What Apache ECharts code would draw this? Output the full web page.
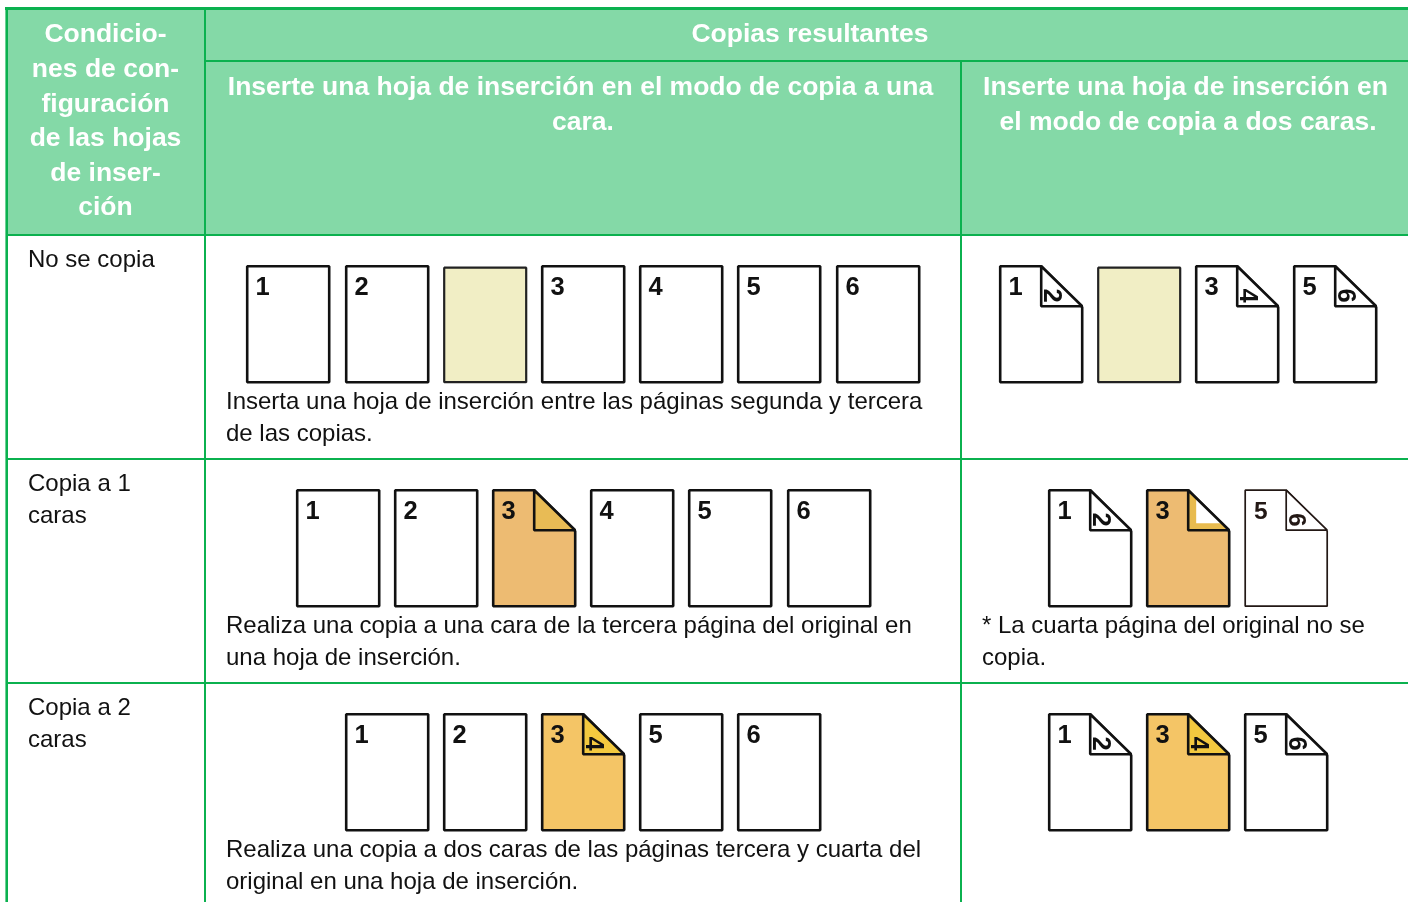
<!DOCTYPE html>
<html>
<head>
<meta charset="utf-8">
<style>
html,body{margin:0;padding:0;background:#fff;}
#main{width:1408px;height:902px;}
</style>
<script src="https://cdn.jsdelivr.net/npm/echarts@6/dist/echarts.min.js"></script>
</head>
<body>
<div id="main"></div>
<script>
/* textos de la tabla */
var headCondition = ['Condicio-','nes de con-','figuración','de las hojas','de inser-','ción'];
var headResult = 'Copias resultantes';
var headOneSide = ['Inserte una hoja de inserción en el modo de copia a una','cara.'];
var headTwoSide = ['Inserte una hoja de inserción en','el modo de copia a dos caras.'];
var rowNames = [['No se copia'],['Copia a 1','caras'],['Copia a 2','caras']];
var notesOneSide = [
    ['Inserta una hoja de inserción entre las páginas segunda y tercera','de las copias.'],
    ['Realiza una copia a una cara de la tercera página del original en','una hoja de inserción.'],
    ['Realiza una copia a dos caras de las páginas tercera y cuarta del','original en una hoja de inserción.']
];
var notesTwoSide = [
    [],
    ['* La cuarta página del original no se','copia.'],
    []
];
/* hojas: 'anverso/reverso', '*' = hoja de inserción en blanco */
var pagesOneSide = [
    ['1','2','*','3','4','5','6'],
    ['1','2','3/','4','5','6'],
    ['1','2','3/4','5','6']
];
var pagesTwoSide = [
    ['1/2','*','3/4','5/6'],
    ['1/2','3/','5/6'],
    ['1/2','3/4','5/6']
];

/* medidas */
var FONT = '"Liberation Sans", Arial, sans-serif';
var GREEN = '#0bb14f', HEAD = '#84d9a7', INK = '#111';
var colX = [7, 205, 961, 1408];
var rowY = [235, 459, 683, 902];
var colCenter = [583, 1188];
var PW = 82, PH = 116, PITCH = 98.2, FOLD = 41;

function hText(x, y, s) {
    return {type:'text', silent:true, x:x, y:y, style:{text:s, fill:'#fff', font:'bold 26.5px '+FONT, align:'center', verticalAlign:'middle'}};
}
function bText(x, y, s) {
    return {type:'text', silent:true, x:x, y:y, style:{text:s, fill:'#111', font:'24px '+FONT, align:'left', verticalAlign:'middle'}};
}
function line(x1, y1, x2, y2, w) {
    return {type:'line', silent:true, shape:{x1:x1,y1:y1,x2:x2,y2:y2}, style:{stroke:GREEN, lineWidth:w}};
}

var graphics = [];
graphics.push({type:'rect', silent:true, shape:{x:colX[0],y:9,width:1408-colX[0],height:rowY[0]-9}, style:{fill:HEAD}});
headCondition.forEach(function (s, i) { graphics.push(hText(105.5, 35 + i*34.6, s)); });
graphics.push(hText(810, 35, headResult));
headOneSide.forEach(function (s, i) { graphics.push(hText(i ? 583 : 580.5, 88 + i*35, s)); });
headTwoSide.forEach(function (s, i) { graphics.push(hText(i ? 1188 : 1185.5, 88 + i*35, s)); });
graphics.push(line(5, 8.5, 1408, 8.5, 3));
graphics.push(line(6.7, 7, 6.7, 902, 2.6));
graphics.push(line(colX[1], 8, colX[1], 902, 2));
graphics.push(line(colX[2], 61, colX[2], 902, 2));
graphics.push(line(colX[1], 61, 1408, 61, 2));
rowY.slice(0,3).forEach(function (y) { graphics.push(line(colX[0], y, 1408, y, 2)); });
rowNames.forEach(function (lines, r) {
    lines.forEach(function (s, i) { graphics.push(bText(28, rowY[r] + 25 + i*32, s)); });
});
notesOneSide.forEach(function (lines, r) {
    lines.forEach(function (s, i) { graphics.push(bText(226, rowY[r] + 167 + i*32, s)); });
});
notesTwoSide.forEach(function (lines, r) {
    lines.forEach(function (s, i) { graphics.push(bText(982, rowY[r] + 167 + i*32, s)); });
});

/* una fila por hoja: [columna, fila, posición, total, etiqueta] */
var sheets = [];
[pagesOneSide, pagesTwoSide].forEach(function (rows, c) {
    rows.forEach(function (list, r) {
        list.forEach(function (label, i) {
            sheets.push([c, r, i, list.length, label]);
        });
    });
});

function poly(points, fill, stroke, width) {
    return {type:'polygon', shape:{points:points}, style:{fill:fill, stroke:stroke, lineWidth:width, lineJoin:'bevel'}};
}

function renderSheet(params, api) {
    var c = api.value(0), r = api.value(1), i = api.value(2), n = api.value(3);
    var label = sheets[params.dataIndex][4];
    var total = PW + (n-1)*PITCH;
    var pos = api.coord([colCenter[c] - total/2 + i*PITCH, rowY[r] + 31]);
    var x = Math.round(pos[0]) + 0.2, y = pos[1] + 0.2;
    var kids = [];

    if (label === '*') {
        kids.push(poly([[x,y+1.5],[x+PW,y+1.5],[x+PW,y+PH],[x,y+PH]], '#f1eec5', '#222', 2.2));
        return {type:'group', children:kids};
    }
    var parts = label.split('/');
    var folded = parts.length > 1;
    var fill = '#fff', foldFill = '#fff', ink = INK, width = 2.6, size = 25.5;
    if (parts[0] === '3' && r === 1) { fill = '#edbb72'; foldFill = c === 0 ? '#e8bb55' : '#e8bb4f'; }
    if (parts[0] === '3' && r === 2) { fill = '#f4c566'; foldFill = '#f3c93f'; }
    if (c === 1 && r === 1 && parts[0] === '5') { ink = '#231815'; width = 1.7; size = 24.5; }

    if (folded) {
        kids.push(poly([[x,y],[x+FOLD,y],[x+PW,y+FOLD],[x+PW,y+PH],[x,y+PH]], fill, ink, width));
        kids.push(poly([[x+FOLD,y],[x+FOLD,y+FOLD-1],[x+PW,y+FOLD-1]], foldFill, null, 0));
        if (c === 1 && r === 1 && parts[0] === '3') {
            kids.push(poly([[x+49,y+8],[x+49,y+33],[x+74,y+33]], '#fff', null, 0));
        }
        kids.push(poly([[x+FOLD,y],[x+FOLD,y+FOLD-1],[x+PW,y+FOLD-1]], 'none', ink, width));
    } else {
        kids.push(poly([[x,y],[x+PW,y],[x+PW,y+PH],[x,y+PH]], fill, ink, width));
    }
    kids.push({type:'text', x:x+15.5, y:y+22, style:{text:parts[0], fill:ink, font:'bold '+size+'px '+FONT, align:'center', verticalAlign:'middle'}});
    if (parts[1]) {
        kids.push({type:'text', x:x+50.5, y:y+29.5, rotation:-Math.PI/2, style:{text:parts[1], fill:ink, font:'bold '+size+'px '+FONT, align:'center', verticalAlign:'middle'}});
    }
    return {type:'group', children:kids};
}

var myChart = echarts.init(document.getElementById('main'));
var options = {
    animation: false,
    backgroundColor: '#fff',
    grid: {left:0, right:0, top:0, bottom:0},
    xAxis: {type:'value', min:0, max:1408, show:false},
    yAxis: {type:'value', min:0, max:902, inverse:true, show:false},
    graphic: {elements: graphics},
    series: [{
        type: 'custom',
        coordinateSystem: 'cartesian2d',
        renderItem: renderSheet,
        silent: true,
        data: sheets,
        encode: {x:0, y:1}
    }]
};
myChart.setOption(options);
</script>
</body>
</html>
